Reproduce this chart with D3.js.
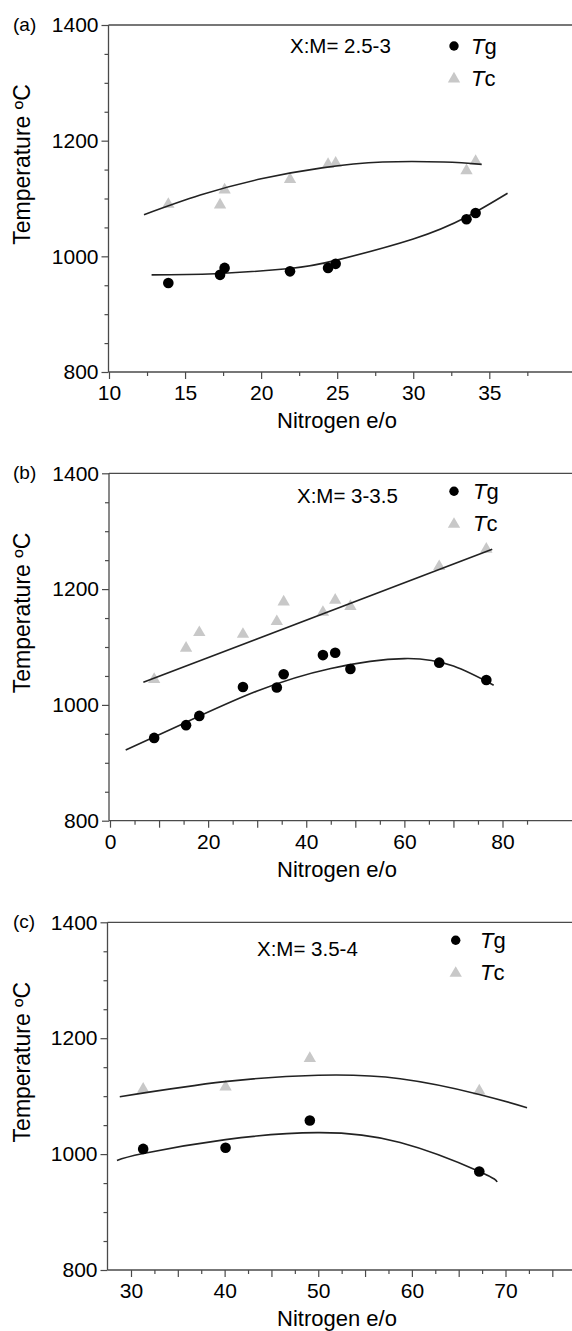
<!DOCTYPE html>
<html>
<head>
<meta charset="utf-8">
<script src="https://cdn.jsdelivr.net/npm/d3@7"></script>
<style>
body{margin:0;background:#fff;}
svg{display:block;font-family:"Liberation Sans",Arial,sans-serif;}
</style>
</head>
<body>
<div id="container"></div>
<script>
// ---- data ----
// (a) X:M = 2.5-3
const nitrogenA = [13.9, 17.3, 17.6, 21.9, 24.4, 24.9, 33.5, 34.1];
const tgA = [954, 968, 980, 974, 980, 987, 1064, 1075];
const tcA = [1090, 1089, 1115, 1133, 1159, 1161, 1148, 1164];
const fitTgA_n = [12.8, 17, 21.9, 24.9, 30, 33.5, 36.2];
const fitTgA_t = [968, 970, 979, 993, 1030, 1068, 1109];
const fitTcA_n = [12.3, 16, 20, 24, 28, 32, 34.5];
const fitTcA_t = [1072, 1106, 1134, 1153, 1163, 1163, 1159];

// (b) X:M = 3-3.5
const nitrogenB = [9.0, 15.5, 18.2, 27.1, 34.0, 35.4, 43.4, 45.9, 49.0, 67.1, 76.7];
const tgB = [943, 965, 981, 1031, 1030, 1053, 1086, 1090, 1062, 1073, 1043];
const tcB = [1044, 1098, 1125, 1122, 1144, 1178, 1160, 1181, 1170, 1239, 1269];
const fitTgB_n = [3.2, 15, 30, 45, 60, 70, 78.2];
const fitTgB_t = [922, 968, 1024, 1063, 1080, 1067, 1034];
const fitTcB_n = [6.8, 77.9];
const fitTcB_t = [1039, 1269];

// (c) X:M = 3.5-4
const nitrogenC = [31.3, 40.1, 49.1, 67.2];
const tgC = [1009, 1011, 1058, 970];
const tcC = [1112, 1116, 1165, 1109];
const fitTgC_n = [28.5, 31.3, 40.1, 49.9, 58.75, 67.2, 69.1];
const fitTgC_t = [989, 1001, 1025, 1037, 1020, 970, 952];
const fitTcC_n = [28.8, 40, 50, 58.75, 67.2, 72.3];
const fitTcC_t = [1099, 1125, 1136, 1130, 1103, 1080];

// tick labels
const tempLabels = [800, 1000, 1200, 1400];
const xLabelsA = [10, 15, 20, 25, 30, 35];
const xLabelsB = [0, 20, 40, 60, 80];
const xLabelsC = [30, 40, 50, 60, 70];

const panelLabels = ['(a)', '(b)', '(c)'];
const ratioLabels = ['X:M= 2.5-3', 'X:M= 3-3.5', 'X:M= 3.5-4'];

const W = 572, H = 1331;
const svg = d3.select('#container').append('svg')
  .attr('width', W).attr('height', H);

const axisColor = '#4a4a4a';
const triColor = '#c8c8c8';
const fontFam = '"Liberation Sans",Arial,sans-serif';

const panels = [
  {label: panelLabels[0], ratio: ratioLabels[0], n: nitrogenA, tg: tgA, tc: tcA,
   fits: [[fitTgA_n, fitTgA_t], [fitTcA_n, fitTcA_t]],
   xDomain: [10, 35], xRange: [109, 489.3], top: 25, bottom: 372, left: 108.5,
   xTicks: d3.range(10, 39, 2.5), xMajor: d3.range(10, 39, 5), xLabels: xLabelsA,
   ratioX: 290, ratioDy: 28, legX: 454, legTextX: 471, legDy: 21},
  {label: panelLabels[1], ratio: ratioLabels[1], n: nitrogenB, tg: tgB, tc: tcB,
   fits: [[fitTgB_n, fitTgB_t], [fitTcB_n, fitTcB_t]],
   xDomain: [0, 80], xRange: [110, 502.5], top: 473.3, bottom: 820.7, left: 109,
   xTicks: d3.range(0, 86, 5), xMajor: d3.range(0, 86, 10), xLabels: xLabelsB,
   ratioX: 297, ratioDy: 30, legX: 454, legTextX: 473, legDy: 18},
  {label: panelLabels[2], ratio: ratioLabels[2], n: nitrogenC, tg: tgC, tc: tcC,
   fits: [[fitTgC_n, fitTgC_t], [fitTcC_n, fitTcC_t]],
   xDomain: [30, 70], xRange: [131, 505.5], top: 922.3, bottom: 1270, left: 107.5,
   xTicks: d3.range(30, 76, 2.5), xMajor: d3.range(30, 76, 5), xLabels: xLabelsC,
   ratioX: 257, ratioDy: 34, legX: 455.7, legTextX: 480, legDy: 18}
];

panels.forEach(p => {
  const g = svg.append('g');

  const x = d3.scaleLinear().domain(p.xDomain).range(p.xRange);
  const y = d3.scaleLinear().domain([800, 1400]).range([p.bottom, p.top]);

  // frame: top line
  g.append('line')
    .attr('x1', p.left).attr('x2', W).attr('y1', p.top).attr('y2', p.top)
    .attr('stroke', axisColor).attr('stroke-width', 1.3);

  // y axis
  const yAxis = d3.axisLeft(y)
    .tickValues(d3.range(800, 1401, 50))
    .tickSize(4)
    .tickFormat(d => tempLabels.includes(d) ? d : '');
  const yg = g.append('g')
    .attr('transform', `translate(${p.left},0)`)
    .call(yAxis);
  yg.select('.domain').remove();
  yg.selectAll('.tick line')
    .attr('x2', d => tempLabels.includes(d) ? -7 : -4)
    .attr('stroke', axisColor).attr('stroke-width', 1.2);
  yg.selectAll('.tick text')
    .attr('x', -10)
    .attr('fill', '#000')
    .style('font-size', '21px')
    .style('font-family', fontFam);
  g.append('line')
    .attr('x1', p.left).attr('x2', p.left).attr('y1', p.top).attr('y2', p.bottom)
    .attr('stroke', axisColor).attr('stroke-width', 1.3);

  // x axis
  const xAxis = d3.axisBottom(x)
    .tickValues(p.xTicks)
    .tickSize(4)
    .tickFormat(d => p.xLabels.includes(d) ? d : '');
  const xg = g.append('g')
    .attr('transform', `translate(0,${p.bottom})`)
    .call(xAxis);
  xg.select('.domain').remove();
  xg.selectAll('.tick line')
    .attr('y2', d => p.xMajor.includes(d) ? 7 : 4)
    .attr('stroke', axisColor).attr('stroke-width', 1.2);
  xg.selectAll('.tick text')
    .attr('y', 28).attr('dy', 0)
    .attr('fill', '#000')
    .style('font-size', '21px')
    .style('font-family', fontFam);
  g.append('line')
    .attr('x1', p.left).attr('x2', W).attr('y1', p.bottom).attr('y2', p.bottom)
    .attr('stroke', axisColor).attr('stroke-width', 1.3);

  // axis titles
  g.append('text')
    .attr('x', 337)
    .attr('y', p.bottom + 56)
    .attr('text-anchor', 'middle')
    .style('font-size', '22px')
    .attr('fill', '#000')
    .text('Nitrogen e/o');

  g.append('text')
    .attr('transform', `translate(30,${(p.top + p.bottom) / 2 - 34}) rotate(-90)`)
    .attr('text-anchor', 'middle')
    .style('font-size', '23px')
    .attr('fill', '#000')
    .text('Temperature ºC');

  // panel letter
  g.append('text')
    .attr('x', 13).attr('y', p.top + 6)
    .style('font-size', '19px')
    .attr('fill', '#000')
    .text(p.label);

  // ratio annotation
  g.append('text')
    .attr('x', p.ratioX).attr('y', p.top + p.ratioDy)
    .style('font-size', '20.5px')
    .attr('fill', '#000')
    .text(p.ratio);

  // fitted curves
  const line = d3.line()
    .x(d => x(d[0]))
    .y(d => y(d[1]))
    .curve(d3.curveNatural);

  // data points
  const pts = p.n.map((v, i) => ({n: v, tg: p.tg[i], tc: p.tc[i]}));

  const tri = d3.symbol().type(d3.symbolTriangle).size(66);

  g.selectAll('path.tc')
    .data(pts)
    .enter()
    .append('path')
    .attr('class', 'tc')
    .attr('d', tri)
    .attr('transform', d => `translate(${x(d.n)},${y(d.tc)})`)
    .attr('fill', triColor);

  p.fits.forEach(f => {
    const fp = f[0].map((v, i) => [v, f[1][i]]);
    g.append('path')
      .datum(fp)
      .attr('d', line)
      .attr('fill', 'none')
      .attr('stroke', '#222')
      .attr('stroke-width', 1.6);
  });

  g.selectAll('circle.tg')
    .data(pts)
    .enter()
    .append('circle')
    .attr('class', 'tg')
    .attr('cx', d => x(d.n))
    .attr('cy', d => y(d.tg))
    .attr('r', 5.3)
    .attr('fill', '#000');

  // legend
  const ly1 = p.top + p.legDy;
  const ly2 = ly1 + 33;
  g.append('circle')
    .attr('cx', p.legX).attr('cy', ly1).attr('r', 4.7).attr('fill', '#000');
  g.append('path')
    .attr('d', tri)
    .attr('transform', `translate(${p.legX},${ly2})`)
    .attr('fill', triColor);

  const t1 = g.append('text')
    .attr('x', p.legTextX).attr('y', ly1 + 8)
    .style('font-size', '22px').attr('fill', '#000');
  t1.append('tspan').style('font-style', 'italic').text('T');
  t1.append('tspan').text('g');

  const t2 = g.append('text')
    .attr('x', p.legTextX).attr('y', ly2 + 7)
    .style('font-size', '22px').attr('fill', '#000');
  t2.append('tspan').style('font-style', 'italic').text('T');
  t2.append('tspan').text('c');
});
</script>
</body>
</html>
